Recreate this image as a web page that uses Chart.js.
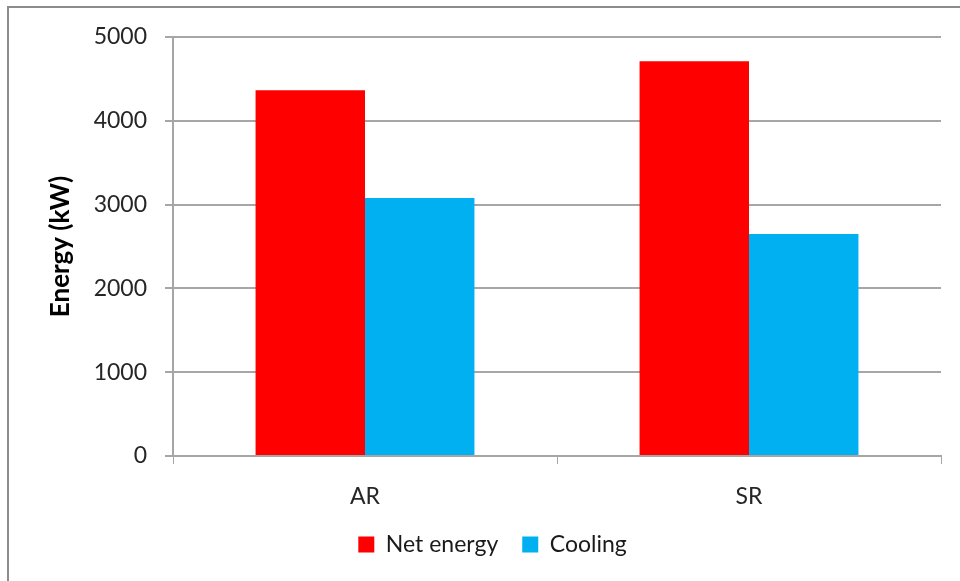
<!DOCTYPE html>
<html lang="en">
<head>
    <meta charset="UTF-8">
    <title>Energy (kW)</title>
    <script src="https://cdn.jsdelivr.net/npm/chart.js"></script>
    <style>
        body { margin: 0; background: #fff; }
        .marco {
            position: absolute; left: 7px; top: 6px; width: 980px; height: 600px;
            border-left: 2px solid #8c8c8c; border-top: 2px solid #8c8c8c;
        }
        .lienzo { position: absolute; left: 0; top: 0; width: 960px; height: 581px; }
    </style>
</head>
<body>
    <div class="marco"></div>
    <div class="lienzo"><canvas id="grafica" width="960" height="581"></canvas></div>

    <script>
        // datos
        const categorias = ["AR", "SR"];
        const netEnergy = [4365, 4710];
        const cooling = [3080, 2650];
        const ticksY = [0, 1000, 2000, 3000, 4000, 5000];

        const gris = "#a6a6a6";
        const fuente = "Lato, 'Open Sans', sans-serif";

        // mover la leyenda un poco a la derecha (centrada en el marco, no en el lienzo)
        const moverLeyenda = {
            id: "moverLeyenda",
            afterLayout(chart) {
                chart.legend.left += 22;
                chart.legend.right += 22;
            }
        };

        const ctx = document.getElementById("grafica").getContext("2d");
        const grafica = new Chart(ctx, {
            type: "bar",
            data: {
                labels: categorias,
                datasets: [
                    { label: "Net energy", data: netEnergy, backgroundColor: "#ff0000", borderWidth: 0 },
                    { label: "Cooling", data: cooling, backgroundColor: "#00b0f0", borderWidth: 0 }
                ]
            },
            plugins: [moverLeyenda],
            options: {
                responsive: false,
                animation: false,
                layout: { padding: { top: 37, right: 19, bottom: 15, left: 0 } },
                datasets: { bar: { barPercentage: 1, categoryPercentage: 0.57 } },
                plugins: {
                    tooltip: { enabled: false },
                    legend: {
                        position: "bottom",
                        labels: {
                            boxWidth: 16, boxHeight: 16, padding: 24,
                            color: "#1a1a1a",
                            font: { family: fuente, size: 23 }
                        }
                    }
                },
                scales: {
                    x: {
                        offset: true,
                        grid: { offset: true, drawOnChartArea: false, drawTicks: true, tickLength: 8, color: gris },
                        border: { color: gris, width: 2 },
                        ticks: { color: "#262626", padding: 19, font: { family: fuente, size: 23 } },
                        afterFit: (s) => { s.height = 53; }
                    },
                    y: {
                        min: 0, max: 5000,
                        afterBuildTicks: (s) => { s.ticks = ticksY.map(v => ({ value: v })); },
                        grid: { color: gris, lineWidth: 2, tickLength: 8 },
                        border: { color: gris, width: 2 },
                        ticks: {
                            color: "#262626", padding: 18, font: { family: fuente, size: 23 },
                            callback: (v) => String(v)
                        },
                        title: {
                            display: true, text: "Energy (kW)", color: "#000",
                            font: { family: fuente, size: 26, weight: "bold" },
                            padding: { top: 45, bottom: 0 }
                        },
                        afterFit: (s) => { s.width = 173; }
                    }
                }
            }
        });
    </script>
</body>
</html>
